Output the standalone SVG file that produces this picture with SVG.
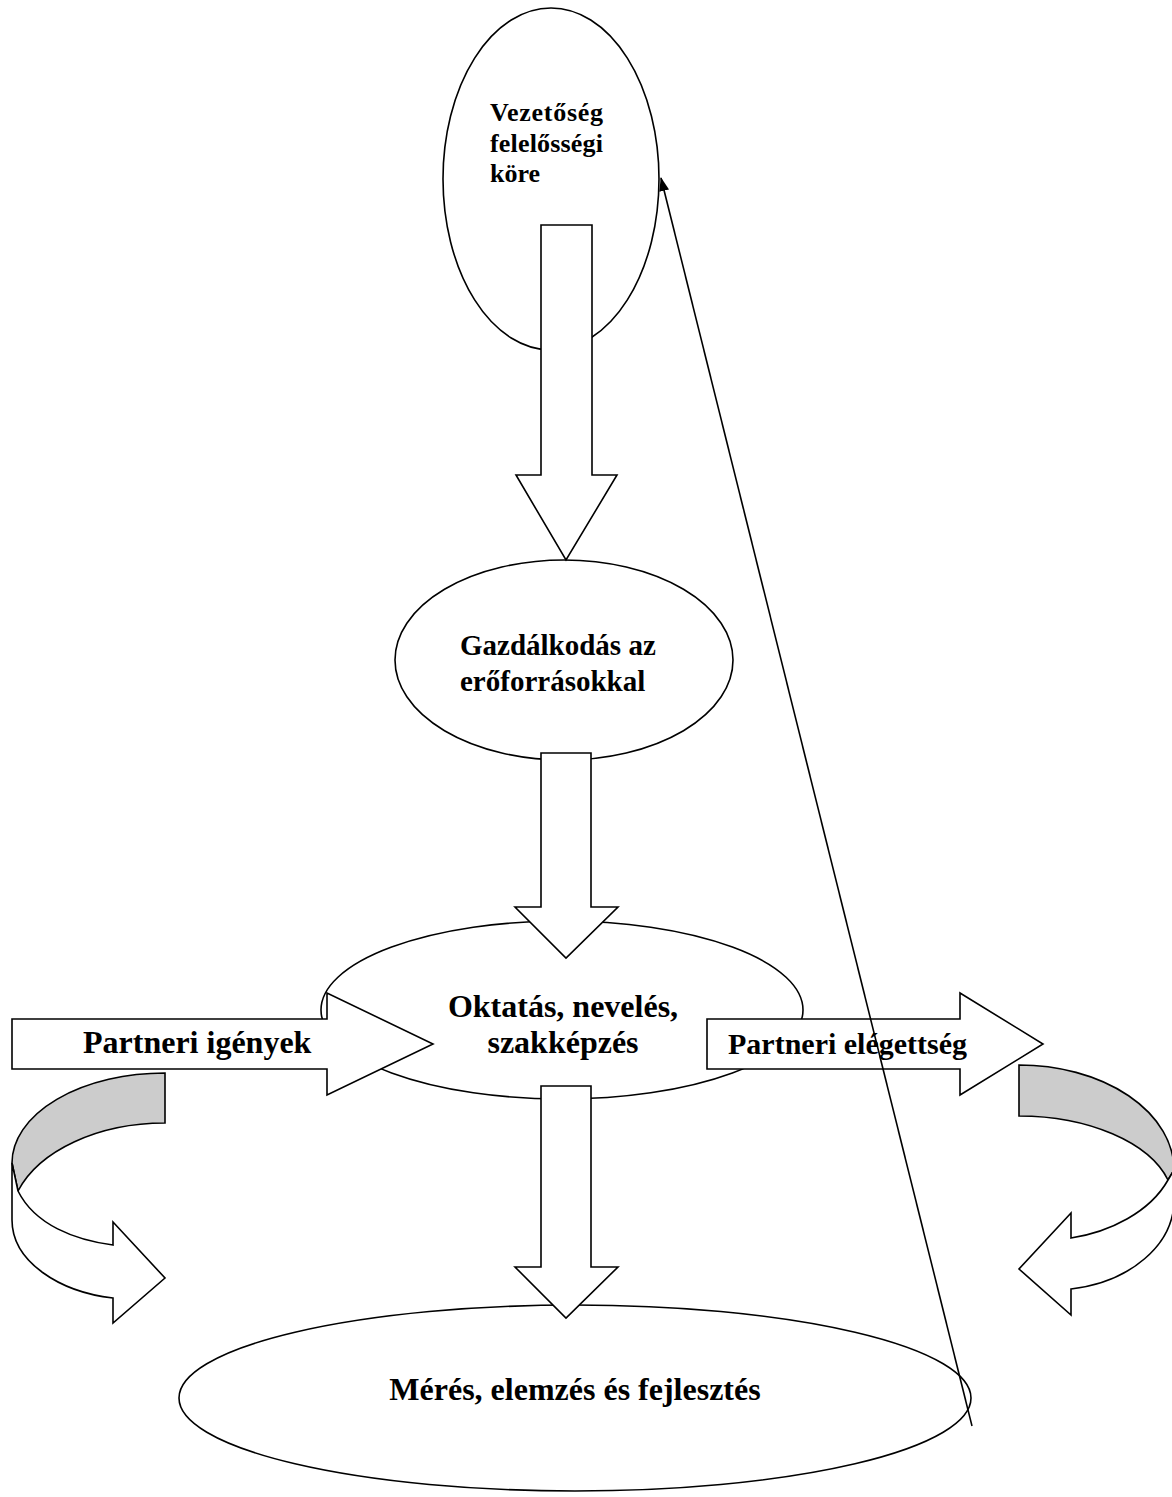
<svg xmlns="http://www.w3.org/2000/svg" width="1172" height="1497" viewBox="0 0 1172 1497">
<style>
.sh{fill:#fff;stroke:#000;stroke-width:1.6;stroke-linejoin:miter}
.gr{fill:#cccccc;stroke:#000;stroke-width:1.6}
.t{font-family:"Liberation Serif","Times New Roman",serif;font-weight:bold;fill:#000}
.ln{fill:none;stroke:#000;stroke-width:1.6}
</style>
<defs>
<marker id="ah" markerWidth="14" markerHeight="10" refX="13" refY="5" orient="auto" markerUnits="userSpaceOnUse" viewBox="0 0 14 10">
<path d="M0,0 L14,5 L0,10 Z" fill="#000"/>
</marker>
</defs>
<rect width="1172" height="1497" fill="#fff"/>
<g id="vezetoseg">
<ellipse class="sh" cx="551" cy="179" rx="108" ry="171"/>
<text class="t" font-size="26"><tspan x="490" y="121" textLength="113" lengthAdjust="spacing">Vezetőség</tspan><tspan x="490" y="152" textLength="113" lengthAdjust="spacing">felelősségi</tspan><tspan x="490" y="182">köre</tspan></text>
</g>
<g id="gazdalkodas">
<ellipse class="sh" cx="564" cy="660" rx="169" ry="100"/>
<text class="t" font-size="29"><tspan x="460" y="655">Gazdálkodás az</tspan><tspan x="460" y="691">erőforrásokkal</tspan></text>
</g>
<g id="oktatas">
<ellipse class="sh" cx="562" cy="1010" rx="241" ry="89"/>
<text class="t" font-size="32" text-anchor="middle"><tspan x="563" y="1017">Oktatás, nevelés,</tspan><tspan x="563" y="1053">szakképzés</tspan></text>
</g>
<g id="meres">
<ellipse class="sh" cx="575" cy="1398" rx="396" ry="93"/>
<text class="t" font-size="32" text-anchor="middle" x="575" y="1400">Mérés, elemzés és fejlesztés</text>
</g>
<g id="partneri-igenyek">
<path class="sh" d="M12,1019 L327,1019 L327,993 L433,1044 L327,1095 L327,1069 L12,1069 Z"/>
<text class="t" font-size="32" x="83" y="1053">Partneri igények</text>
</g>
<g id="partneri-elegedettseg">
<path class="sh" d="M707,1019 L960,1019 L960,993 L1043,1044 L960,1095 L960,1069 L707,1069 Z"/>
<text class="t" font-size="30" x="728" y="1054">Partneri elégettség</text>
</g>
<g id="curved-left">
<path class="gr" d="M165,1073 A153 90 0 0 0 12 1163 L18,1191 A155 100 0 0 1 165 1123 Z"/>
<path class="sh" d="M12,1163 L12,1220 C12,1262 60,1292 113,1298 L113,1323 L165,1278 L113,1222 L113,1245 C75,1240 35,1225 18,1191 Z"/>
</g>
<g id="curved-right">
<path class="gr" d="M1019,1065 A155 105 0 0 1 1174 1170 L1168,1180 A155 88 0 0 0 1019 1116 Z"/>
<path class="sh" d="M1174,1170 L1174,1200 C1174,1245 1130,1282 1071,1289 L1071,1315 L1019,1269 L1071,1213 L1071,1238 C1110,1232 1150,1212 1168,1180 Z"/>
</g>
<g id="connectors">
<path class="sh" d="M541,225 L592,225 L592,475 L617,475 L566,560 L516,475 L541,475 Z"/>
<path class="sh" d="M541,753 L591,753 L591,907 L618,907 L566,958 L515,907 L541,907 Z"/>
<path class="sh" d="M541,1086 L591,1086 L591,1267 L618,1267 L566,1318 L515,1267 L541,1267 Z"/>
<line class="ln" x1="972" y1="1426" x2="661" y2="178" marker-end="url(#ah)"/>
</g>
</svg>
